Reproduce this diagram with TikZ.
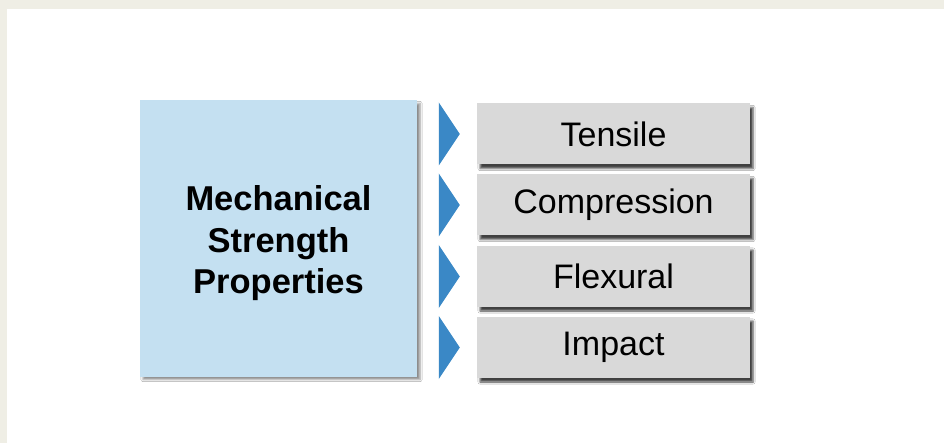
\documentclass[tikz,border=0pt]{standalone}
\usepackage{fontspec}
\setmainfont{Liberation Sans}
\usetikzlibrary{shadows.blur,calc}
\definecolor{pagebeige}{HTML}{EFEEE5}
\definecolor{mainblue}{HTML}{C4E0F1}
\definecolor{itemgray}{HTML}{D9D9D9}
\definecolor{tipblue}{HTML}{3A88C6}
\tikzset{
  mainbox/.style={fill=mainblue, minimum width=277pt, minimum height=276pt,
    inner sep=0pt,
    blur shadow={shadow xshift=3pt, shadow yshift=-3pt, shadow blur steps=4, shadow opacity=45}},
  maintext/.style={inner sep=0pt, align=center, font=\fontsize{34.5}{41.5}\selectfont\bfseries},
  itembox/.style={fill=itemgray, minimum width=273pt, minimum height=61pt,
    inner sep=0pt, font=\fontsize{34}{40}\selectfont,
    blur shadow={shadow xshift=3pt, shadow yshift=-4pt, shadow blur steps=4, shadow opacity=75}},
  tip/.style={fill=tipblue}
}
\begin{document}
\begin{tikzpicture}[x=1pt, y=-1pt]
  % page background and white panel
  \fill[pagebeige] (0,0) rectangle (944,443);
  \fill[white] (7,9) rectangle (944,443);
  \useasboundingbox (0,0) rectangle (944,443);

  % main box and its title
  \node[mainbox] (main) at (278.5,238.5) {};
  \node[maintext] (maintitle) at ($(main.center)+(0,5)$) {Mechanical\\Strength\\Properties};

  % property boxes
  \node[itembox] (t1) at (613.5,134) {Tensile};
  \node[itembox] (t2) at (613.5,205) {Compression};
  \node[itembox] (t3) at (613.5,276.5) {Flexural};
  \node[itembox] (t4) at (613.5,347.5) {Impact};

  % pointer triangles before each box
  \foreach \n in {t1,t2,t3,t4}{
    \fill[tip] ($(\n.west)+(-38,-31.5)$) -- ($(\n.west)+(-17,0)$) -- ($(\n.west)+(-38,31.5)$) -- cycle;
  }
\end{tikzpicture}
\end{document}
